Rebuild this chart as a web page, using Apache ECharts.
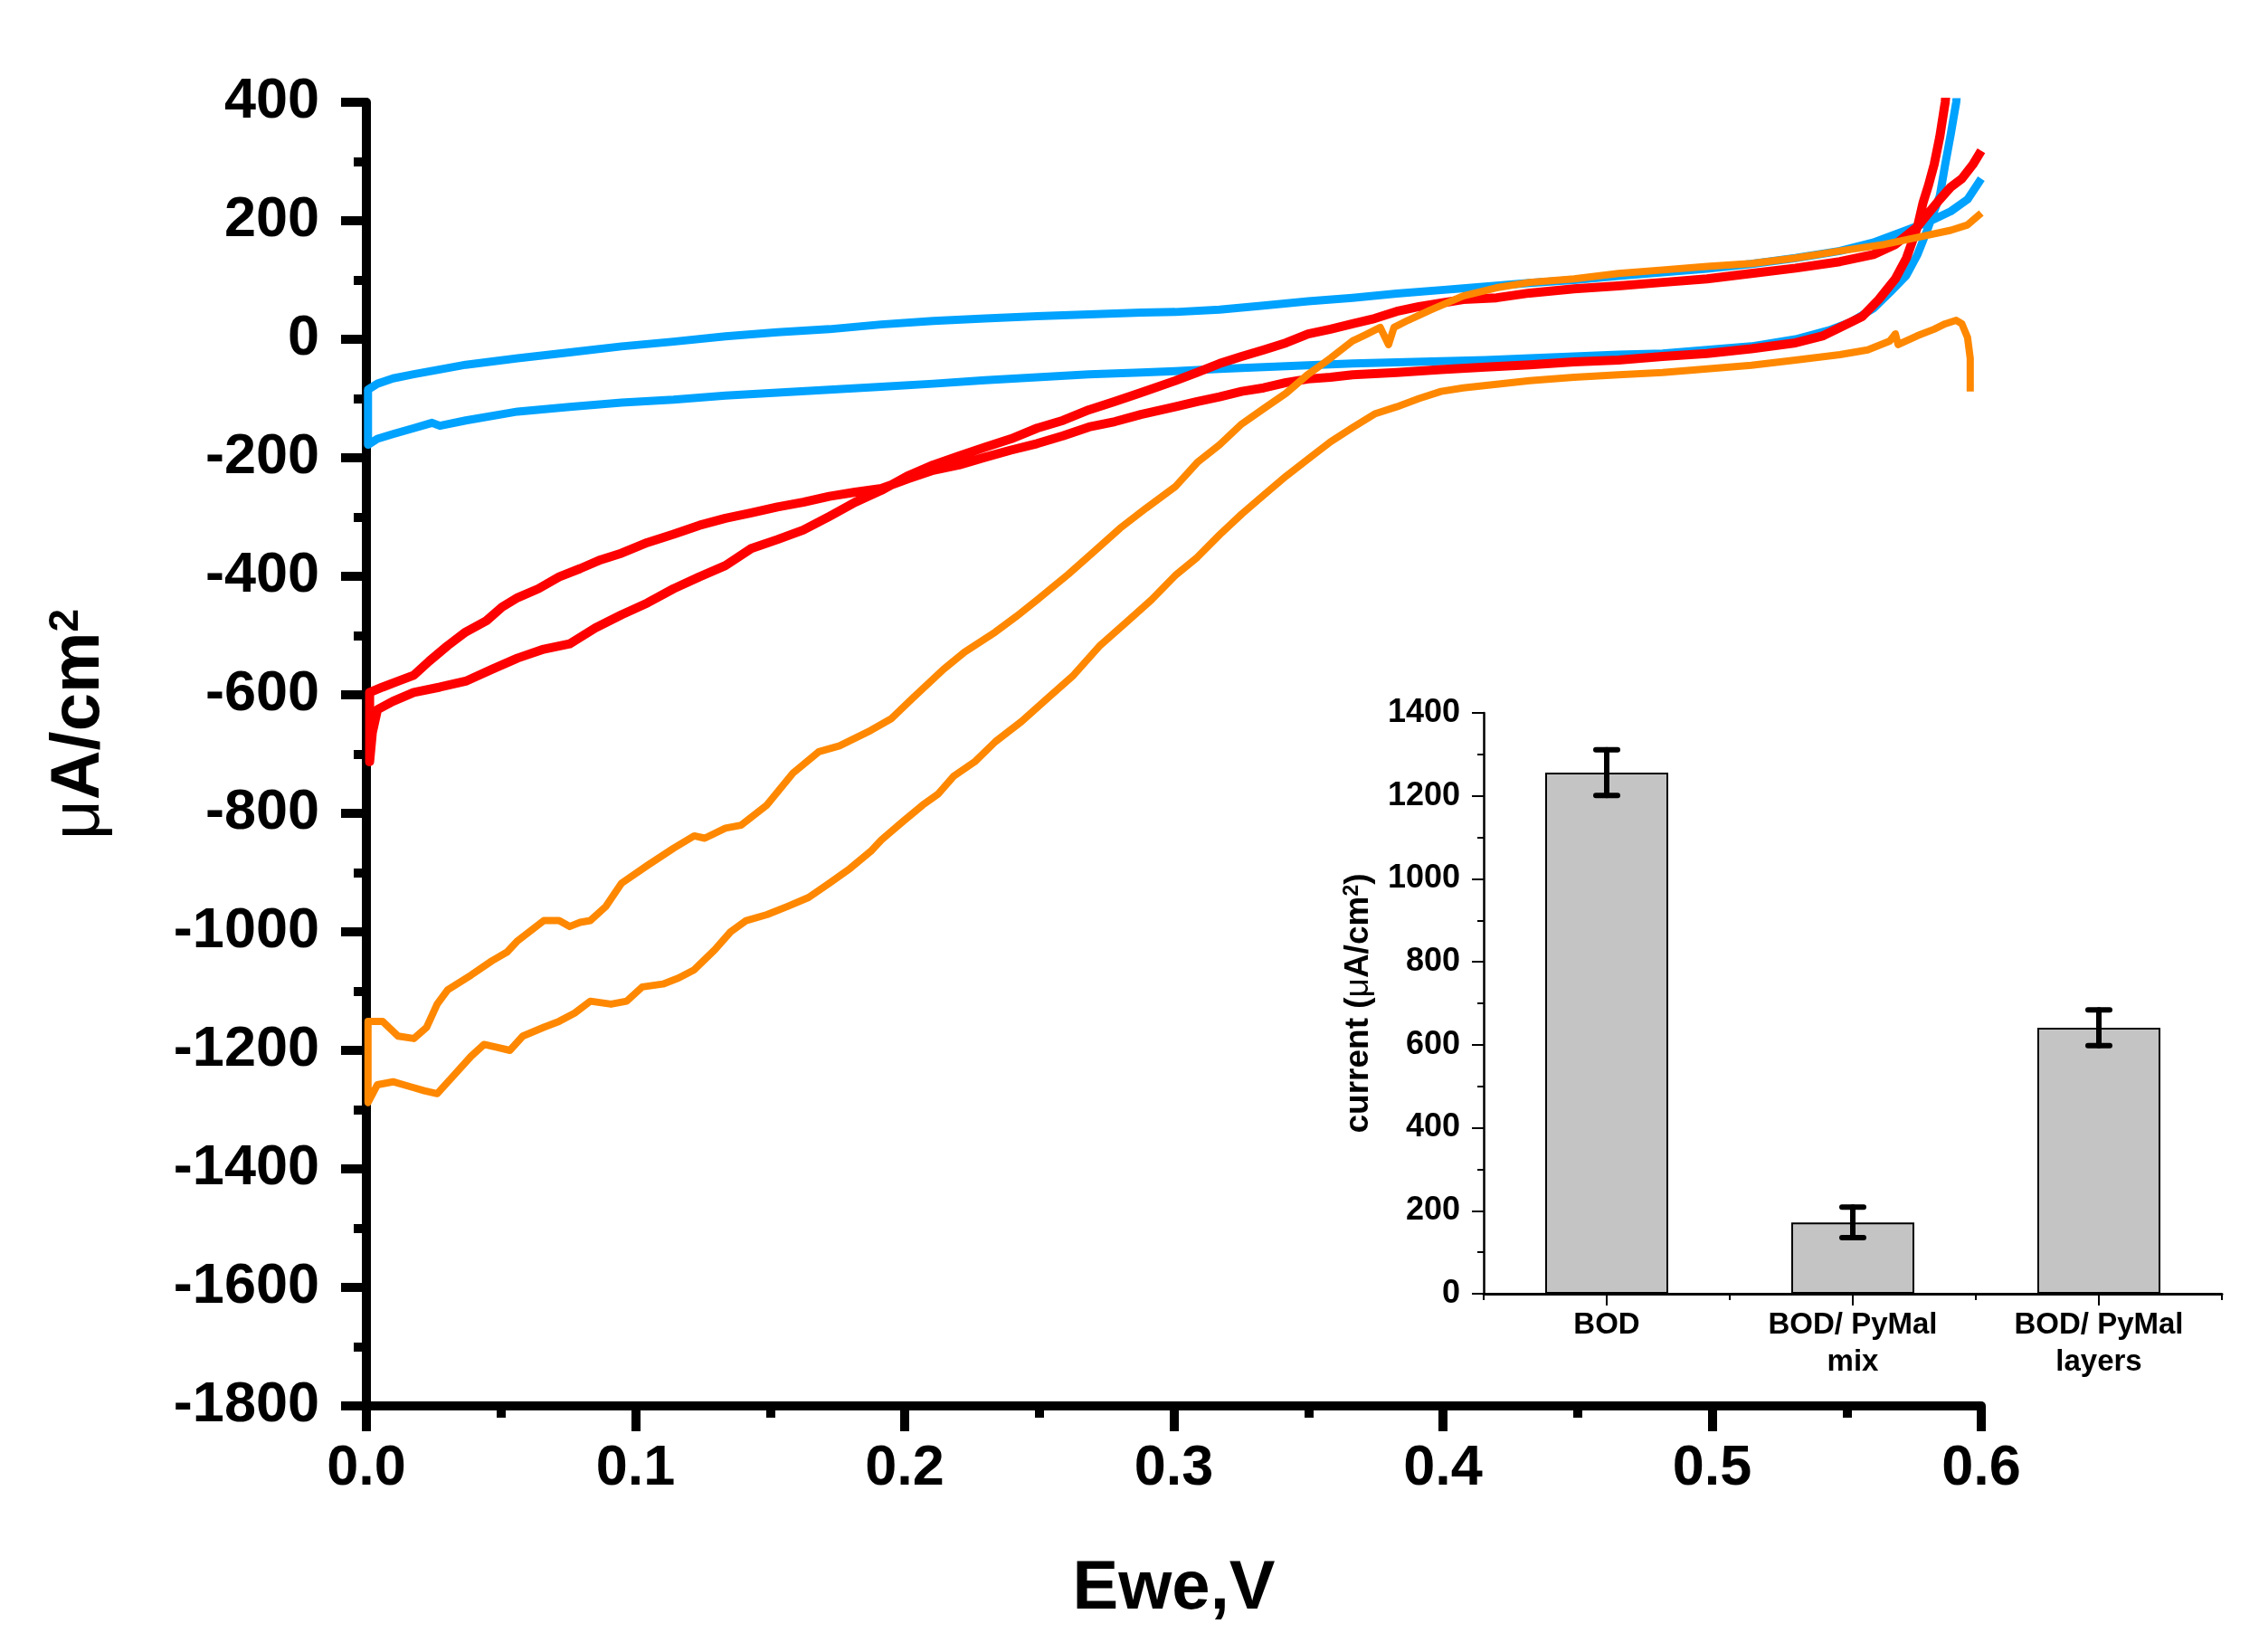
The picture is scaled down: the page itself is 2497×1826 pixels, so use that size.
<!DOCTYPE html>
<html><head><meta charset="utf-8">
<script src="https://cdn.jsdelivr.net/npm/echarts@6/dist/echarts.min.js"></script>
<style>html,body{margin:0;padding:0;background:#fff}#c{width:2497px;height:1826px}</style>
</head><body><div id="c"></div>
<script>
// ---- main plot data: [Ewe (V), current density (uA/cm2)] ----
const blueUpper = [[0.0006,-85],[0.0041,-75],[0.0099,-66],[0.0176,-59],[0.0273,-51],[0.0369,-43],[0.0562,-32],[0.0755,-22],[0.0948,-12],[0.1141,-4],[0.1334,5],[0.1527,12],[0.1720,17],[0.1913,25],[0.2106,31],[0.2299,35],[0.2492,39],[0.2685,42],[0.2878,45],[0.3005,46],[0.3170,50],[0.3334,57],[0.3499,64],[0.3664,70],[0.3828,77],[0.3993,83],[0.4158,89],[0.4322,95],[0.4487,100],[0.4652,107],[0.4816,113],[0.4981,119],[0.5146,127],[0.5310,137],[0.5475,149],[0.5598,163],[0.5722,184],[0.5804,198],[0.5887,216],[0.5949,236],[0.6000,271]];
const blueLower = [[0.0006,-178],[0.0041,-168],[0.0099,-160],[0.0176,-150],[0.0244,-141],[0.0273,-146],[0.0369,-137],[0.0562,-122],[0.0755,-114],[0.0948,-107],[0.1141,-102],[0.1334,-95],[0.1527,-90],[0.1720,-85],[0.1913,-80],[0.2106,-75],[0.2299,-69],[0.2492,-64],[0.2685,-59],[0.2878,-56],[0.3005,-54],[0.3170,-50],[0.3334,-47],[0.3499,-44],[0.3664,-41],[0.3828,-39],[0.3993,-37],[0.4158,-35],[0.4322,-32],[0.4487,-29],[0.4652,-26],[0.4816,-24],[0.4981,-18],[0.5146,-12],[0.5310,0],[0.5434,15],[0.5516,29],[0.5599,52],[0.5660,79],[0.5722,108],[0.5763,143],[0.5804,190],[0.5846,242],[0.5866,295],[0.5887,347],[0.5907,400],[0.5930,520]];
const redUpper = [[0.0012,-713],[0.0022,-664],[0.0041,-625],[0.0099,-611],[0.0176,-596],[0.0273,-587],[0.0369,-577],[0.0466,-557],[0.0562,-538],[0.0659,-523],[0.0755,-514],[0.0851,-487],[0.0948,-465],[0.1044,-445],[0.1141,-421],[0.1237,-401],[0.1334,-382],[0.1430,-353],[0.1527,-338],[0.1623,-322],[0.1720,-299],[0.1816,-275],[0.1913,-255],[0.2009,-231],[0.2106,-212],[0.2202,-197],[0.2299,-182],[0.2395,-168],[0.2492,-150],[0.2588,-137],[0.2685,-119],[0.2781,-105],[0.2878,-90],[0.3005,-70],[0.3087,-56],[0.3170,-41],[0.3252,-29],[0.3334,-18],[0.3417,-6],[0.3499,9],[0.3582,17],[0.3664,26],[0.3746,35],[0.3828,47],[0.3911,55],[0.3993,61],[0.4075,67],[0.4199,70],[0.4322,78],[0.4487,85],[0.4652,90],[0.4816,96],[0.4981,102],[0.5146,111],[0.5310,120],[0.5475,131],[0.5599,143],[0.5681,160],[0.5763,190],[0.5804,213],[0.5846,236],[0.5887,257],[0.5928,271],[0.5969,295],[0.6000,318]];
const redLower = [[0.0012,-596],[0.0060,-587],[0.0118,-577],[0.0176,-567],[0.0234,-543],[0.0302,-517],[0.0369,-494],[0.0446,-475],[0.0504,-452],[0.0562,-436],[0.0639,-421],[0.0716,-401],[0.0794,-387],[0.0871,-372],[0.0948,-361],[0.1044,-343],[0.1141,-329],[0.1237,-314],[0.1334,-302],[0.1430,-293],[0.1527,-283],[0.1623,-275],[0.1720,-265],[0.1816,-258],[0.1913,-252],[0.2009,-236],[0.2106,-221],[0.2202,-212],[0.2299,-199],[0.2395,-187],[0.2492,-176],[0.2588,-163],[0.2685,-148],[0.2781,-139],[0.2878,-127],[0.3005,-114],[0.3087,-105],[0.3170,-97],[0.3252,-88],[0.3334,-82],[0.3417,-73],[0.3499,-67],[0.3582,-64],[0.3664,-60],[0.3828,-56],[0.3993,-51],[0.4158,-47],[0.4322,-43],[0.4487,-38],[0.4652,-35],[0.4816,-29],[0.4981,-24],[0.5146,-16],[0.5310,-6],[0.5413,6],[0.5475,20],[0.5557,38],[0.5619,67],[0.5681,102],[0.5722,137],[0.5763,190],[0.5784,231],[0.5804,260],[0.5825,295],[0.5846,342],[0.5866,400],[0.5890,520]];
const orangeUpper = [[0.0006,-1151],[0.0060,-1151],[0.0118,-1176],[0.0176,-1180],[0.0224,-1161],[0.0263,-1122],[0.0302,-1098],[0.0389,-1073],[0.0466,-1049],[0.0523,-1034],[0.0562,-1015],[0.0659,-981],[0.0716,-981],[0.0755,-991],[0.0794,-984],[0.0832,-981],[0.0890,-957],[0.0948,-918],[0.1044,-888],[0.1141,-859],[0.1218,-838],[0.1257,-842],[0.1334,-825],[0.1392,-820],[0.1488,-786],[0.1585,-732],[0.1681,-696],[0.1758,-686],[0.1874,-660],[0.1951,-640],[0.2029,-606],[0.2144,-557],[0.2222,-528],[0.2337,-494],[0.2414,-468],[0.2492,-440],[0.2607,-397],[0.2704,-358],[0.2800,-319],[0.2897,-285],[0.3005,-249],[0.3087,-208],[0.3170,-178],[0.3252,-143],[0.3334,-117],[0.3417,-91],[0.3499,-59],[0.3582,-32],[0.3664,-3],[0.3705,6],[0.3767,20],[0.3798,-9],[0.3818,20],[0.3870,32],[0.3952,49],[0.4075,73],[0.4199,87],[0.4322,96],[0.4487,102],[0.4652,111],[0.4816,117],[0.4981,123],[0.5146,128],[0.5310,137],[0.5475,149],[0.5640,160],[0.5763,172],[0.5887,184],[0.5949,193],[0.6000,213]];
const orangeLower = [[0.0006,-1288],[0.0041,-1258],[0.0099,-1253],[0.0138,-1258],[0.0176,-1263],[0.0215,-1268],[0.0263,-1273],[0.0321,-1244],[0.0389,-1210],[0.0437,-1190],[0.0485,-1195],[0.0533,-1200],[0.0581,-1176],[0.0659,-1161],[0.0716,-1151],[0.0774,-1137],[0.0832,-1117],[0.0909,-1122],[0.0967,-1117],[0.1025,-1093],[0.1102,-1088],[0.1160,-1078],[0.1218,-1064],[0.1295,-1030],[0.1353,-1000],[0.1411,-981],[0.1488,-971],[0.1565,-957],[0.1643,-942],[0.1720,-918],[0.1797,-893],[0.1874,-864],[0.1913,-845],[0.1990,-815],[0.2067,-786],[0.2125,-767],[0.2183,-737],[0.2260,-713],[0.2337,-679],[0.2434,-645],[0.2530,-606],[0.2627,-567],[0.2723,-518],[0.2820,-479],[0.2916,-440],[0.3009,-397],[0.3087,-368],[0.3170,-330],[0.3252,-295],[0.3334,-263],[0.3417,-231],[0.3499,-202],[0.3582,-173],[0.3664,-149],[0.3746,-126],[0.3828,-114],[0.3911,-100],[0.3993,-88],[0.4075,-82],[0.4199,-76],[0.4322,-70],[0.4487,-64],[0.4652,-60],[0.4816,-56],[0.4981,-50],[0.5146,-44],[0.5310,-35],[0.5475,-26],[0.5578,-18],[0.5660,-3],[0.5681,9],[0.5691,-9],[0.5763,6],[0.5825,17],[0.5866,26],[0.5907,32],[0.5928,26],[0.5949,3],[0.5959,-32],[0.5959,-88]];

// ---- inset bar chart data ----
const insetCategories = ['BOD', 'BOD/ PyMal\nmix', 'BOD/ PyMal\nlayers'];
const insetValues = [1256, 172, 641];
const insetErrors = [55, 37, 43];

// ---- build traces (scan order) ----
const blueLoop = blueUpper.slice().reverse().concat(blueLower);
const redLoop = redUpper.slice().reverse().concat(redLower);
const orangeLoop = orangeLower.slice().reverse().concat(orangeUpper);
const errData = insetValues.map((v, i) => [i, v, insetErrors[i]]);

const FF = 'Liberation Sans';
const BLK = '#000';

function lineSeries(data, color, width) {
  return {type:'line', xAxisIndex:0, yAxisIndex:0, data:data, showSymbol:false, symbol:'none',
    clip:true, animation:false, lineStyle:{color:color, width:width, join:'round'}, z:2};
}

const chart = echarts.init(document.getElementById('c'), null, {renderer:'canvas'});
chart.setOption({
  backgroundColor:'#fff',
  animation:false,
  textStyle:{fontFamily:FF},
  grid:[
    {left:405, top:113, width:1785, height:1441, containLabel:false},
    {left:1640, top:788, width:816, height:642, containLabel:false}
  ],
  xAxis:[
    {type:'value', gridIndex:0, min:0, max:0.6, interval:0.1,
      name:'Ewe,V', nameLocation:'middle', nameGap:165,
      nameTextStyle:{fontFamily:FF, fontSize:76, fontWeight:'bold', color:BLK},
      axisLine:{show:true, onZero:false, lineStyle:{color:BLK, width:10}},
      axisTick:{show:true, length:28, lineStyle:{color:BLK, width:10}},
      minorTick:{show:true, splitNumber:2, length:13, lineStyle:{color:BLK, width:10}},
      axisLabel:{fontFamily:FF, fontSize:63, fontWeight:'bold', color:BLK, margin:38,
        formatter:v => v.toFixed(1)},
      splitLine:{show:false}, minorSplitLine:{show:false}},
    {type:'value', gridIndex:1, min:0, max:3, interval:1, position:'bottom',
      axisLine:{show:false}, axisLabel:{show:false}, splitLine:{show:false},
      axisTick:{show:true, length:7, lineStyle:{color:BLK, width:2}}},
    {type:'category', gridIndex:1, data:insetCategories, position:'bottom',
      axisLine:{show:true, onZero:false, lineStyle:{color:BLK, width:3}},
      axisTick:{show:true, alignWithLabel:true, length:13, lineStyle:{color:BLK, width:2}},
      axisLabel:{fontFamily:FF, fontSize:33, fontWeight:'bold', color:BLK, margin:14, lineHeight:41, interval:0},
      splitLine:{show:false}}
  ],
  yAxis:[
    {type:'value', gridIndex:0, min:-1800, max:400, interval:200,
      name:'{m|μ}{a|A/cm}{s|2}', nameLocation:'middle', nameGap:279,
      nameTextStyle:{padding:[0,0,0,66], rich:{
        m:{fontFamily:FF, fontSize:76, color:BLK},
        a:{fontFamily:FF, fontSize:76, fontWeight:'bold', color:BLK},
        s:{fontFamily:FF, fontSize:46, fontWeight:'bold', color:BLK, verticalAlign:'top'}}},
      axisLine:{show:true, onZero:false, lineStyle:{color:BLK, width:10}},
      axisTick:{show:true, length:28, lineStyle:{color:BLK, width:10}},
      minorTick:{show:true, splitNumber:2, length:14, lineStyle:{color:BLK, width:10}},
      axisLabel:{fontFamily:FF, fontSize:63, fontWeight:'bold', color:BLK, margin:52,
        formatter:v => String(v)},
      splitLine:{show:false}, minorSplitLine:{show:false}},
    {type:'value', gridIndex:1, min:0, max:1400, interval:200,
      name:'{a|current (}{m|μ}{a|A/cm}{s|2}{a|)}', nameLocation:'middle', nameGap:120,
      nameTextStyle:{rich:{
        m:{fontFamily:FF, fontSize:37, color:BLK},
        a:{fontFamily:FF, fontSize:37, fontWeight:'bold', color:BLK},
        s:{fontFamily:FF, fontSize:23, fontWeight:'bold', color:BLK, verticalAlign:'top'}}},
      axisLine:{show:true, onZero:false, lineStyle:{color:BLK, width:2.5}},
      axisTick:{show:true, length:13, lineStyle:{color:BLK, width:2}},
      minorTick:{show:true, splitNumber:2, length:7, lineStyle:{color:BLK, width:2}},
      axisLabel:{fontFamily:FF, fontSize:36, fontWeight:'bold', color:BLK, margin:26,
        formatter:v => String(v)},
      splitLine:{show:false}, minorSplitLine:{show:false}}
  ],
  series:[
    lineSeries(blueLoop, '#00A2FF', 9),
    lineSeries(redLoop, '#FF0000', 10),
    lineSeries(orangeLoop, '#FF8800', 8),
    {type:'bar', xAxisIndex:2, yAxisIndex:1, data:insetValues, barWidth:'50%', animation:false,
      itemStyle:{color:'#C4C4C4', borderColor:BLK, borderWidth:2}, z:3},
    {type:'custom', xAxisIndex:2, yAxisIndex:1, data:errData, z:5, animation:false,
      renderItem:function(params, api){
        const i = api.value(0), v = api.value(1), e = api.value(2);
        const top = api.coord([i, v + e]);
        const bot = api.coord([i, v - e]);
        const hw = 12;
        const st = {stroke:BLK, lineWidth:6, lineCap:'round'};
        return {type:'group', children:[
          {type:'line', shape:{x1:top[0], y1:top[1], x2:bot[0], y2:bot[1]}, style:st},
          {type:'line', shape:{x1:top[0]-hw, y1:top[1], x2:top[0]+hw, y2:top[1]}, style:st},
          {type:'line', shape:{x1:bot[0]-hw, y1:bot[1], x2:bot[0]+hw, y2:bot[1]}, style:st}
        ]};
      }}
  ]
});
</script></body></html>
